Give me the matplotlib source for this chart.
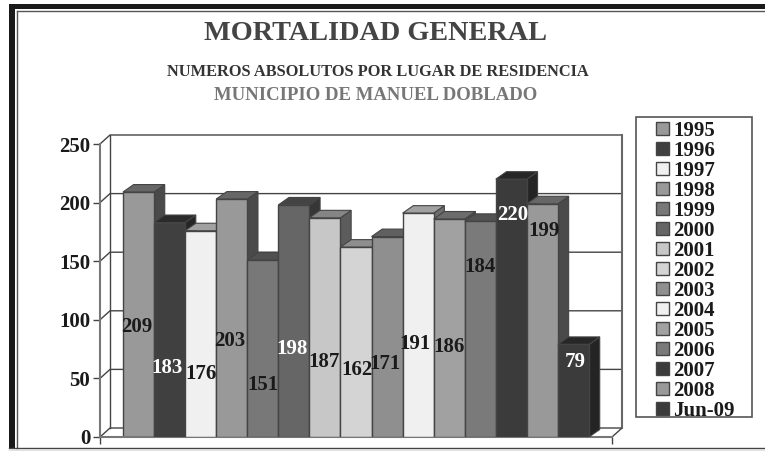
import matplotlib
matplotlib.use('Agg')
import matplotlib.pyplot as plt
from matplotlib.patches import Polygon, Rectangle

plt.rcParams['font.family'] = ['Liberation Serif', 'DejaVu Serif']
plt.rcParams['font.weight'] = 'bold'

# data
years = ['1995', '1996', '1997', '1998', '1999', '2000', '2001', '2002',
         '2003', '2004', '2005', '2006', '2007', '2008', 'Jun-09']
deaths = [209, 183, 176, 203, 151, 198, 187, 162, 171, 191, 186, 184, 220, 199, 79]
y_ticks = [0, 50, 100, 150, 200, 250]

# layout, labels sit at odd heights in the original
label_y = [94, 59, 54, 82, 44, 75, 64, 57, 62, 79, 77, 145, 189, 176, 64]
label_dx = [-0.05, -0.07, 0, -0.05, 0, -0.05, -0.03, 0.03, -0.06, -0.1, 0, 0, 0.03, 0.06, 0.06]
label_white = [False, True, False, False, False, True, False, False,
               False, False, False, False, True, False, True]
grays = [0.60, 0.25, 0.94, 0.60, 0.47, 0.40, 0.78, 0.83,
         0.56, 0.94, 0.63, 0.48, 0.23, 0.60, 0.23]

W, H = 765, 451
PX_X = 31.07     # pixels per bar
PX_Y = 1.172     # pixels per death
EDGE = '#444444'
FS = 15

fig = plt.figure(figsize=(W / 100, H / 100), dpi=100)

# outer frame, in pixel coordinates
bg = fig.add_axes([0, 0, 1, 1])
bg.set_xlim(0, W)
bg.set_ylim(H, 0)
bg.axis('off')
bg.add_patch(Rectangle((9, 4), W - 9, 5, color='#1a1a1a', lw=0))
bg.add_patch(Rectangle((9, 4), 6, 444, color='#1a1a1a', lw=0))
bg.plot([17, W], [11, 11], color='#555555', lw=1)
bg.plot([17, 17], [11, 448], color='#555555', lw=1)
bg.plot([9, W], [448, 448], color='#444444', lw=1)
bg.plot([9, W], [450.5, 450.5], color='#666666', lw=1)
bg.add_patch(Rectangle((636, 117), 116, 300, facecolor='white', edgecolor='#555555', lw=1.2))

fig.text(375 / W, 1 - 34 / H, 'MORTALIDAD GENERAL', ha='center', va='center',
         fontsize=20.3, color='#444444')
fig.text(378 / W, 1 - 72 / H, 'NUMEROS ABSOLUTOS POR LUGAR DE RESIDENCIA', ha='center',
         va='center', fontsize=11.8, color='#333333')
fig.text(375.5 / W, 1 - 95 / H, 'MUNICIPIO DE MANUEL DOBLADO', ha='center', va='center',
         fontsize=13.5, color='#777777')

# plot area runs from the front corner to the back wall
ax = fig.add_axes([100 / W, 1 - 437 / H, 522 / W, 302 / H])
ax.patch.set_alpha(0)
x_left = -38.5 / PX_X
x_right = x_left + 522 / PX_X
y_top = 302 / PX_Y
ax.set_xlim(x_left, x_right)
ax.set_ylim(0, y_top)

wall_dx = 10 / PX_X
wall_dy = 9 / PX_Y
x_front = x_right - wall_dx

# walls and gridlines
for t in y_ticks:
    ax.plot([x_left, x_left + wall_dx, x_right], [t, t + wall_dy, t + wall_dy],
            color=EDGE, lw=1, zorder=1, clip_on=False)
ax.plot([x_left + wall_dx] * 2, [wall_dy, y_ticks[-1] + wall_dy], color=EDGE, lw=1, zorder=1)
ax.plot([x_right] * 2, [wall_dy, y_ticks[-1] + wall_dy], color='#666666', lw=1.5, zorder=1, clip_on=False)
ax.plot([x_front, x_right], [0, wall_dy], color=EDGE, lw=1, zorder=1)

# fake 3d bars
bar_dx = 10.7 / PX_X
bar_dy = 7.5 / PX_Y
for i, v in enumerate(deaths):
    g = grays[i]
    z = 2 + i
    x0, x1 = i - 0.5, i + 0.5
    side = str(g * 0.4 + 0.05)
    top = str(g * 0.67)
    ax.add_patch(Polygon([(x1, 0), (x1 + bar_dx, bar_dy), (x1 + bar_dx, v + bar_dy), (x1, v)],
                         facecolor=side, edgecolor=EDGE, lw=0.8, zorder=z))
    ax.add_patch(Polygon([(x0, v), (x0 + bar_dx, v + bar_dy), (x1 + bar_dx, v + bar_dy), (x1, v)],
                         facecolor=top, edgecolor=EDGE, lw=0.8, zorder=z))
    ax.bar(i, v, width=1, color=str(g), edgecolor=EDGE, lw=1, zorder=z, label=years[i])

for i, v in enumerate(deaths):
    ax.text(i + label_dx[i], label_y[i], str(v), ha='center', va='center', fontsize=FS,
            color='white' if label_white[i] else '#1a1a1a', zorder=30)

ax.set_yticks(y_ticks)
ax.set_yticklabels([str(t) for t in y_ticks], fontsize=FS, color='#1a1a1a')
ax.set_xticks([x_left, x_front])
ax.set_xticklabels(['', ''])
ax.tick_params(axis='both', length=5, width=1, color=EDGE, pad=2)
for s in ['top', 'right']:
    ax.spines[s].set_visible(False)
ax.spines['left'].set_bounds(0, 250)
ax.spines['bottom'].set_bounds(x_left, x_front)
ax.spines['left'].set_color('#777777')
ax.spines['bottom'].set_color('#777777')
ax.spines['left'].set_linewidth(1.5)
ax.spines['bottom'].set_linewidth(1.5)

leg = fig.legend(loc='upper left', bbox_to_anchor=(656 / W, 1 - 121 / H), ncol=1,
                 fontsize=FS, frameon=False,
                 handlelength=0.62, handleheight=0.62, handletextpad=0.2,
                 labelspacing=0.0, borderaxespad=0, borderpad=0)
for t in leg.get_texts():
    t.set_color('#1a1a1a')

fig.savefig('out.png', dpi=100)
